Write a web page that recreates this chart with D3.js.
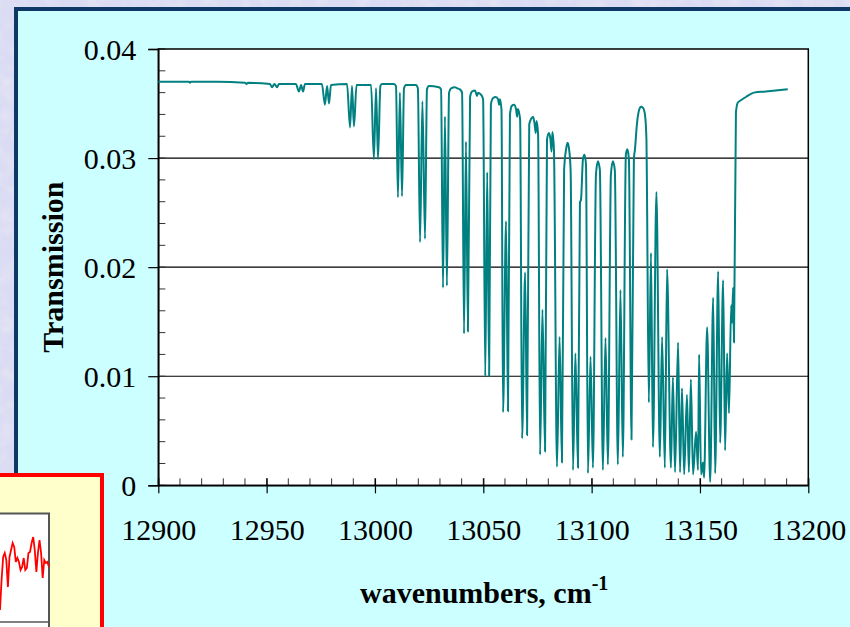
<!DOCTYPE html>
<html>
<head>
<meta charset="utf-8">
<script src="https://cdn.jsdelivr.net/npm/d3@7"></script>
<style>
  html, body { margin: 0; padding: 0; overflow: hidden; background: #d8daf2; }
  svg { display: block; }
</style>
</head>
<body>
<div id="chart"></div>
<script>
// ---------------- DATA ----------------
const xTicks = [12900, 12950, 13000, 13050, 13100, 13150, 13200];
const yTicks = [0, 0.01, 0.02, 0.03, 0.04];
const yTickLabels = ["0", "0.01", "0.02", "0.03", "0.04"];

const wavenumbers = [
  12900.0,12907.7,12914.2,12914.6,12915.1,12927.1,12940.0,12940.7,12941.4,12951.5,
  12952.5,12953.6,12954.8,12955.7,12963.5,12964.9,12965.9,12966.8,12967.7,12975.5,
  12976.9,12977.9,12978.8,12979.7,12987.1,12988.5,12989.4,12990.3,12991.5,12998.2,
  12999.5,13000.5,13001.4,13002.5,13003.2,13008.8,13009.7,13010.6,13011.5,13012.5,
  13013.4,13014.3,13018.9,13019.8,13020.8,13021.9,13023.1,13024.0,13024.9,13029.5,
  13030.5,13031.4,13032.3,13033.2,13034.2,13035.1,13036.9,13037.9,13039.2,13040.2,
  13041.1,13042.0,13042.9,13043.9,13044.8,13046.2,13047.1,13047.6,13049.0,13049.9,
  13050.9,13051.8,13052.7,13053.5,13054.5,13055.8,13056.8,13057.3,13057.7,13058.4,
  13059.1,13060.5,13061.4,13062.3,13063.2,13064.2,13065.1,13065.6,13066.0,13067.0,
  13067.9,13069.3,13070.2,13071.2,13072.1,13073.0,13073.7,13074.2,13074.6,13075.3,
  13076.2,13077.3,13078.5,13079.4,13080.3,13081.0,13081.5,13081.9,13082.6,13084.0,
  13085.2,13086.3,13087.3,13088.2,13088.9,13089.6,13090.3,13091.4,13092.5,13093.7,
  13094.6,13095.1,13096.0,13096.7,13097.4,13098.3,13099.5,13100.6,13102.0,13102.9,
  13103.8,13105.2,13106.4,13107.5,13108.9,13109.8,13110.7,13112.1,13113.3,13114.4,
  13115.8,13116.5,13117.2,13118.4,13119.5,13120.0,13120.9,13121.9,13122.8,13123.7,
  13124.6,13125.3,13125.5,13126.4,13127.4,13128.3,13129.9,13131.5,13132.5,13133.8,
  13134.8,13136.6,13137.5,13138.5,13139.9,13140.8,13141.7,13142.7,13144.0,13144.9,
  13145.8,13146.8,13148.2,13149.1,13149.6,13150.5,13151.4,13151.9,13153.3,13154.7,
  13156.1,13157.0,13158.4,13159.3,13160.7,13161.6,13162.5,13163.4,13164.4,13164.8,
  13165.3,13165.7,13166.6,13167.5,13168.9,13171.2,13174.9,13180.4,13190.5
];
const transmission = [
  0.0370,0.0370,0.0370,0.0369,0.0370,0.0370,0.0369,0.0368,0.0369,0.0368,
  0.0365,0.0368,0.0365,0.0368,0.0368,0.0361,0.0367,0.0361,0.0368,0.0368,
  0.0349,0.0366,0.0350,0.0367,0.0368,0.0328,0.0366,0.0329,0.0367,0.0367,
  0.0299,0.0364,0.0299,0.0366,0.0368,0.0368,0.0366,0.0264,0.0360,0.0265,
  0.0364,0.0367,0.0367,0.0364,0.0223,0.0352,0.0226,0.0363,0.0366,0.0365,
  0.0363,0.0181,0.0338,0.0183,0.0360,0.0364,0.0365,0.0364,0.0363,0.0360,
  0.0139,0.0315,0.0141,0.0356,0.0361,0.0362,0.0357,0.0360,0.0358,0.0354,
  0.0100,0.0287,0.0100,0.0349,0.0355,0.0356,0.0354,0.0349,0.0354,0.0344,
  0.0067,0.0242,0.0068,0.0340,0.0348,0.0349,0.0345,0.0338,0.0345,0.0335,
  0.0043,0.0195,0.0046,0.0331,0.0336,0.0338,0.0331,0.0323,0.0334,0.0321,
  0.0028,0.0161,0.0031,0.0317,0.0323,0.0317,0.0306,0.0324,0.0308,0.0017,
  0.0136,0.0021,0.0289,0.0308,0.0314,0.0308,0.0289,0.0014,0.0121,0.0016,
  0.0259,0.0262,0.0299,0.0303,0.0294,0.0011,0.0118,0.0016,0.0285,0.0297,
  0.0289,0.0014,0.0135,0.0019,0.0285,0.0297,0.0289,0.0019,0.0179,0.0026,
  0.0303,0.0308,0.0299,0.0042,0.0299,0.0308,0.0331,0.0344,0.0347,0.0346,
  0.0340,0.0317,0.0280,0.0076,0.0213,0.0035,0.0269,0.0026,0.0136,0.0016,
  0.0198,0.0016,0.0099,0.0012,0.0131,0.0012,0.0089,0.0010,0.0083,0.0012,
  0.0097,0.0010,0.0049,0.0014,0.0120,0.0010,0.0021,0.0007,0.0145,0.0003,
  0.0172,0.0011,0.0196,0.0039,0.0188,0.0032,0.0121,0.0066,0.0165,0.0149,
  0.0181,0.0131,0.0342,0.0351,0.0353,0.0356,0.0360,0.0361,0.0363
];

// small inset spectrum (relative signal, arbitrary units)
const insetSignal = [
  0.12,0.42,0.65,0.69,0.62,0.35,0.65,0.72,0.79,0.75,
  0.60,0.64,0.60,0.52,0.55,0.64,0.52,0.54,0.69,0.70,
  0.79,0.85,0.72,0.50,0.69,0.82,0.69,0.44,0.62,0.59,
  0.60,0.55
];

// ---------------- LAYOUT ----------------
const W = 850, H = 627;
const margin = { left: 158.3, right: 850 - 808.3, top: 49, bottom: 627 - 485.3 };

const svg = d3.select("#chart").append("svg")
  .attr("width", W).attr("height", H)
  .attr("viewBox", `0 0 ${W} ${H}`);

// textured background
const defs = svg.append("defs");
const f = defs.append("filter").attr("id", "tex").attr("x", 0).attr("y", 0).attr("width", 1).attr("height", 1);
f.append("feTurbulence").attr("type", "fractalNoise").attr("baseFrequency", 0.07).attr("numOctaves", 2).attr("seed", 3).attr("result", "n");
f.append("feColorMatrix").attr("in", "n").attr("type", "matrix")
  .attr("values", "0 0 0 0 0.96  0 0 0 0 0.88  0 0 0 0 0.96  0 0 0 -1.6 1.0");
svg.append("rect").attr("width", W).attr("height", H).attr("fill", "#dadcf3");
svg.append("rect").attr("width", W).attr("height", H).attr("filter", "url(#tex)").attr("opacity", 0.45);

// cyan panel
svg.append("rect")
  .attr("x", 16).attr("y", 9).attr("width", 900).attr("height", 700)
  .attr("fill", "#ccffff").attr("stroke", "#0f3868").attr("stroke-width", 4);

const x = d3.scaleLinear().domain([12900, 13200]).range([margin.left, W - margin.right]);
const y = d3.scaleLinear().domain([0, 0.04]).range([H - margin.bottom, margin.top]);

// plot area
svg.append("rect")
  .attr("x", x(12900)).attr("y", y(0.04))
  .attr("width", x(13200) - x(12900)).attr("height", y(0) - y(0.04))
  .attr("fill", "#ffffff");

// gridlines
svg.append("g").selectAll("line").data(yTicks.filter(d => d > 0 && d < 0.04)).join("line")
  .attr("x1", x(12900)).attr("x2", x(13200))
  .attr("y1", d => y(d)).attr("y2", d => y(d))
  .attr("stroke", "#000").attr("stroke-width", 1.2);

// minor ticks (inside)
const yMinor = d3.range(0, 0.0401, 0.002);
svg.append("g").selectAll("line").data(yMinor).join("line")
  .attr("x1", x(12900)).attr("x2", x(12900) + 7)
  .attr("y1", d => y(d)).attr("y2", d => y(d))
  .attr("stroke", "#333").attr("stroke-width", 1);
const xMinor = d3.range(12900, 13201, 10);
svg.append("g").selectAll("line").data(xMinor).join("line")
  .attr("x1", d => x(d)).attr("x2", d => x(d))
  .attr("y1", y(0)).attr("y2", y(0) - 7)
  .attr("stroke", "#333").attr("stroke-width", 1);

// plot frame
svg.append("rect")
  .attr("x", x(12900)).attr("y", y(0.04))
  .attr("width", x(13200) - x(12900)).attr("height", y(0) - y(0.04))
  .attr("fill", "none").attr("stroke", "#000").attr("stroke-width", 1.5);

// y axis
const yAxis = d3.axisLeft(y).tickValues(yTicks).tickFormat((d, i) => yTickLabels[i]).tickSize(10).tickPadding(12);
const gy = svg.append("g").attr("transform", `translate(${x(12900)},0)`).call(yAxis);
gy.select(".domain").attr("stroke", "#000").attr("stroke-width", 1.5);
gy.selectAll(".tick line").attr("stroke", "#000").attr("stroke-width", 1.2);
gy.selectAll(".tick text")
  .attr("font-family", "'Liberation Serif', 'Times New Roman', serif")
  .attr("font-size", 30).attr("fill", "#000").attr("dy", "0.35em");

// x axis
const xAxis = d3.axisBottom(x).tickValues(xTicks).tickFormat(d3.format("d")).tickSizeInner(8).tickSizeOuter(0).tickPadding(25);
const gx = svg.append("g").attr("transform", `translate(0,${y(0)})`).call(xAxis);
gx.select(".domain").attr("stroke", "#000").attr("stroke-width", 1.5);
gx.selectAll(".tick line").attr("y1", -7).attr("stroke", "#000").attr("stroke-width", 1.2);
gx.selectAll(".tick text")
  .attr("font-family", "'Liberation Serif', 'Times New Roman', serif")
  .attr("font-size", 30).attr("fill", "#000");

// spectrum line
const pts = wavenumbers.map((w, i) => [w, transmission[i]]);
svg.append("path").datum(pts)
  .attr("d", d3.line().curve(d3.curveMonotoneX).x(d => x(d[0])).y(d => y(d[1])))
  .attr("fill", "none").attr("stroke", "#008080").attr("stroke-width", 2)
  .attr("stroke-linejoin", "round");

// axis titles
svg.append("text")
  .attr("transform", `translate(63,${(y(0) + y(0.04)) / 2}) rotate(-90)`)
  .attr("text-anchor", "middle")
  .attr("font-family", "'Liberation Serif', 'Times New Roman', serif")
  .attr("font-weight", "bold").attr("font-size", 30).attr("fill", "#000")
  .text("Transmission");

const xt2 = svg.append("text")
  .attr("x", 360).attr("y", 603)
  .attr("font-family", "'Liberation Serif', 'Times New Roman', serif")
  .attr("font-weight", "bold").attr("font-size", 30).attr("fill", "#000");
xt2.append("tspan").text("wavenumbers, cm");
xt2.append("tspan").attr("font-size", 20).attr("dy", -13).text("-1");

// inset (partially off-page)
const inset = svg.append("g");
inset.append("rect").attr("x", -30).attr("y", 475).attr("width", 132).attr("height", 200)
  .attr("fill", "#ffffcc").attr("stroke", "#ff0000").attr("stroke-width", 4);
inset.append("rect").attr("x", -40).attr("y", 513.5).attr("width", 89).attr("height", 150)
  .attr("fill", "#ffffff").attr("stroke", "#555").attr("stroke-width", 2);
const ix = d3.scaleLinear().domain([0, insetSignal.length - 1]).range([0, 49]);
const iy = d3.scaleLinear().domain([0, 1.09]).range([622, 513]);
inset.append("line").attr("x1", -40).attr("x2", 49).attr("y1", iy(0)).attr("y2", iy(0))
  .attr("stroke", "#555").attr("stroke-width", 1.5);
inset.append("path").datum(insetSignal)
  .attr("d", d3.line().x((d, i) => ix(i)).y(d => iy(d)))
  .attr("fill", "none").attr("stroke", "#ff0000").attr("stroke-width", 1.8);
</script>
</body>
</html>
